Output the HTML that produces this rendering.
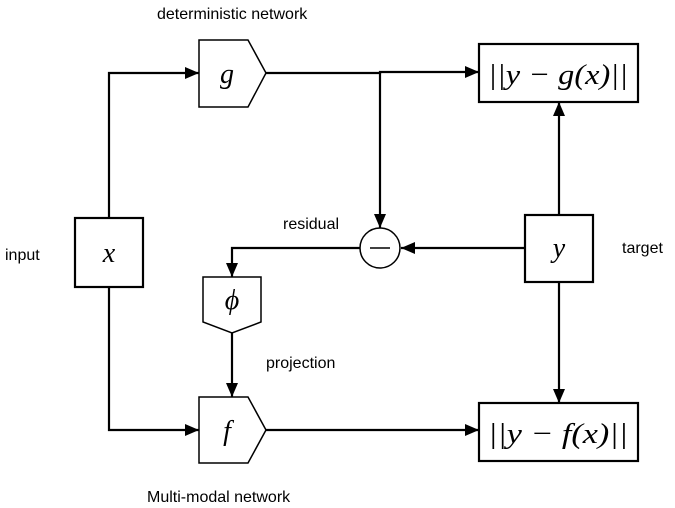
<!DOCTYPE html>
<html><head><style>body{margin:0;background:#fff}svg{display:block}</style></head><body>
<svg width="675" height="508" viewBox="0 0 675 508" xmlns="http://www.w3.org/2000/svg">
<defs><marker id="a" markerWidth="14" markerHeight="12" refX="14" refY="6" orient="auto" markerUnits="userSpaceOnUse"><path d="M0,0 L14,6 L0,12 z" fill="#000"/></marker></defs>
<g fill="none" stroke="#000" stroke-width="2.2">
<path d="M109,218 V73 H199" marker-end="url(#a)"/>
<path d="M109,287 V430 H199" marker-end="url(#a)"/>
<path d="M266,73 H380 V72 H479" marker-end="url(#a)"/>
<path d="M380,73 V228" marker-end="url(#a)"/>
<path d="M525,248 H401" marker-end="url(#a)"/>
<path d="M360,248 H232 V277" marker-end="url(#a)"/>
<path d="M232,333 V397" marker-end="url(#a)"/>
<path d="M266,430 H479" marker-end="url(#a)"/>
<path d="M559,215 V102" marker-end="url(#a)"/>
<path d="M559,282 V403" marker-end="url(#a)"/>
</g>
<g fill="#fff" stroke="#000" stroke-width="1.5">
<path d="M199,40 H248 L266,73 L248,107 H199 Z"/>
<path d="M199,397 H248 L266,430 L248,463 H199 Z"/>
<path d="M203,277 H261 V322 L232,333 L203,322 Z"/>
<circle cx="380" cy="248" r="20"/>
</g>
<g fill="#fff" stroke="#000" stroke-width="2.2">
<rect x="75" y="218" width="68" height="69"/>
<rect x="525" y="215" width="68" height="67"/>
<rect x="479" y="44" width="159" height="58"/>
<rect x="479" y="403" width="159" height="58"/>
</g>
<line x1="370" y1="248" x2="390" y2="248" stroke="#000" stroke-width="1.5"/>
<g font-family="Liberation Serif,serif" font-style="italic" font-size="28" text-anchor="middle">
<text x="227" y="83">g</text>
<text x="227" y="440">f</text>
<text x="232" y="309">ϕ</text>
<text x="109" y="262">x</text>
<text x="559" y="257">y</text>
<text x="558" y="84" font-size="29" textLength="140" lengthAdjust="spacingAndGlyphs">||y − g(x)||</text>
<text x="558" y="443" font-size="29" textLength="140" lengthAdjust="spacingAndGlyphs">||y − f(x)||</text>
</g>
<g font-family="Liberation Sans,sans-serif" font-size="16">
<text x="157" y="19">deterministic network</text>
<text x="283" y="229">residual</text>
<text x="5" y="260">input</text>
<text x="622" y="253">target</text>
<text x="266" y="368">projection</text>
<text x="147" y="502">Multi-modal network</text>
</g>
</svg>
</body></html>
